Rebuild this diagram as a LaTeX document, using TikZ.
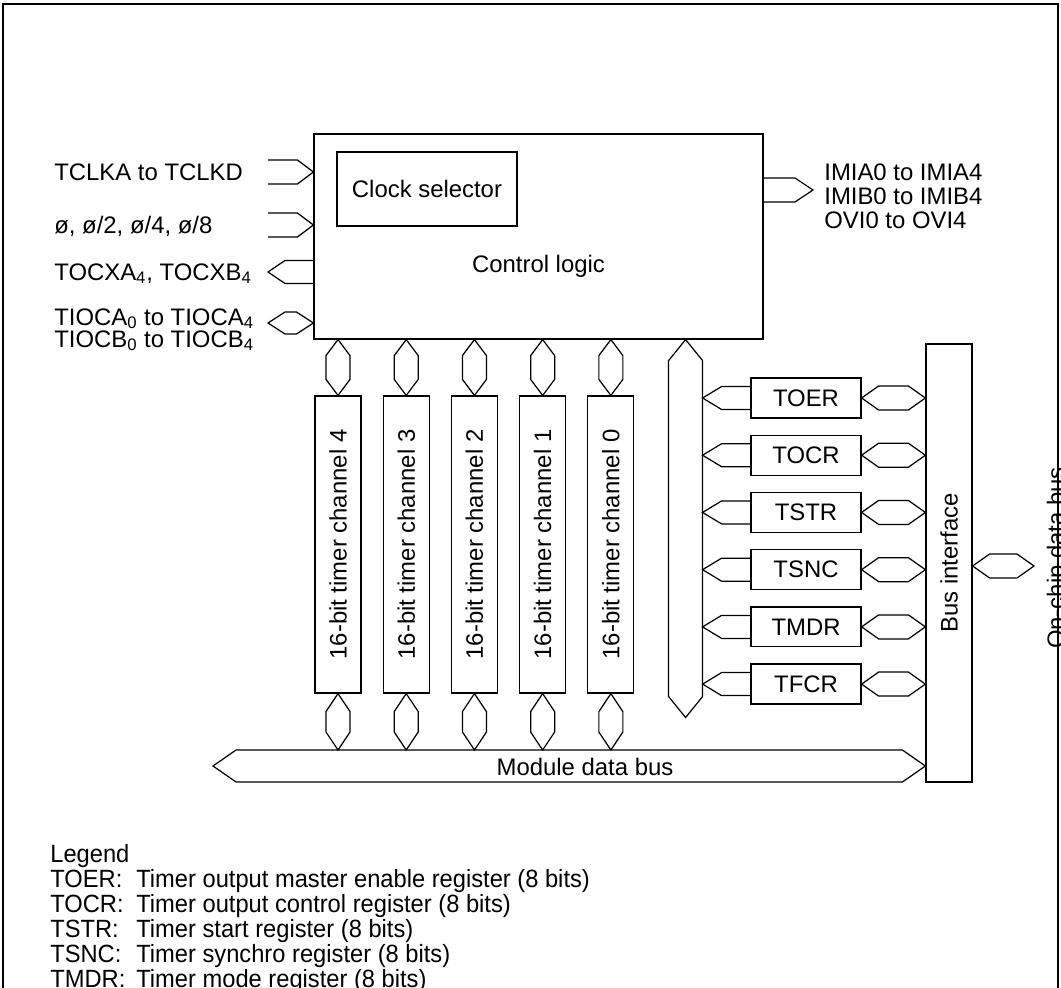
\documentclass[tikz,border=0pt]{standalone}
\usepackage{fontspec}
\setmainfont{Liberation Sans}
\usepackage{graphicx}
\usetikzlibrary{positioning}
\newcommand{\dgmfont}{\fontsize{13.6pt}{16pt}\selectfont}
\newcommand{\legfont}{\fontsize{14.2pt}{17pt}\selectfont}

\begin{document}
\begin{tikzpicture}[
    x=0.02cm, y=-0.02cm,
    node distance=0.42cm,
    every node/.style={font=\dgmfont},
    blk/.style={rectangle,draw,line width=0.7pt,inner sep=0pt},
    chan/.style={blk,minimum width=0.92cm,minimum height=5.94cm},
    reg/.style={blk,minimum width=2.2cm,minimum height=0.8cm},
    lbl/.style={anchor=base west,inner sep=0pt},
    legtxt/.style={lbl,font=\legfont,xscale=0.95},
    bus/.style={draw,line width=0.7pt,line join=miter},
    vhex/.style 2 args={bus,to path={-- ([shift={(#1,#2)}]\tikztostart) -- ([shift={(#1,-#2)}]\tikztotarget) -- (\tikztotarget) -- ([shift={(-#1,-#2)}]\tikztotarget) -- ([shift={(-#1,#2)}]\tikztostart) -- cycle}},
    hhex/.style 2 args={bus,to path={-- ([shift={(#2,-#1)}]\tikztostart) -- ([shift={(-#2,-#1)}]\tikztotarget) -- (\tikztotarget) -- ([shift={(-#2,#1)}]\tikztotarget) -- ([shift={(#2,#1)}]\tikztostart) -- cycle}},
    pentR/.style 2 args={bus,to path={([shift={(0,-#1)}]\tikztostart) -- ([shift={(-#2,-#1)}]\tikztotarget) -- (\tikztotarget) -- ([shift={(-#2,#1)}]\tikztotarget) -- ([shift={(0,#1)}]\tikztostart)}},
    pentL/.style 2 args={bus,to path={([shift={(0,-#1)}]\tikztostart) -- ([shift={(#2,-#1)}]\tikztotarget) -- (\tikztotarget) -- ([shift={(#2,#1)}]\tikztotarget) -- ([shift={(0,#1)}]\tikztostart)}}
  ]
    \useasboundingbox (0,0) rectangle (1061,987);
    \clip (0,0) rectangle (1061,987);
    \draw[line width=0.9pt] (3,4) rectangle (1058,1100);

    % control block
    \node[blk,minimum width=8.98cm,minimum height=4.1cm,
      label={[yshift=-0.59cm]center:Control logic}] (ctl) at (538.5,236.5) {};
    \node[blk,minimum width=3.6cm,minimum height=1.48cm] (clk) at (427,189) {Clock selector};

    % timer channels
    \node[chan] (ch4) at (338,544.5) {\rotatebox{90}{16-bit timer channel 4}};
    \node[chan,right=of ch4] (ch3) {\rotatebox{90}{16-bit timer channel 3}};
    \node[chan,right=of ch3] (ch2) {\rotatebox{90}{16-bit timer channel 2}};
    \node[chan,right=of ch2] (ch1) {\rotatebox{90}{16-bit timer channel 1}};
    \node[chan,right=of ch1] (ch0) {\rotatebox{90}{16-bit timer channel 0}};

    % registers and bus interface
    \node[reg] (TOER) at (806,398) {TOER};
    \node[reg,below=0.32cm of TOER] (TOCR) {TOCR};
    \node[reg,below=0.32cm of TOCR] (TSTR) {TSTR};
    \node[reg,below=0.32cm of TSTR] (TSNC) {TSNC};
    \node[reg,below=0.32cm of TSNC] (TMDR) {TMDR};
    \node[reg,below=0.32cm of TMDR] (TFCR) {TFCR};
    \node[blk,minimum width=0.92cm,minimum height=8.76cm] (busif) at (949,563) {\rotatebox{90}{Bus interface}};

    % pin labels
    \node[lbl] (tclklbl) at (54,180) {TCLKA to TCLKD};
    \node[lbl] (philbl) at (54,233) {ø, ø/2, ø/4, ø/8};
    \node[lbl] (tocxlbl) at (54,280) {TOCXA\textsubscript{4}, TOCXB\textsubscript{4}};
    \node[lbl] (tiocalbl) at (54,325) {TIOCA\textsubscript{0} to TIOCA\textsubscript{4}};
    \node[lbl] (tiocblbl) at (54,347) {TIOCB\textsubscript{0} to TIOCB\textsubscript{4}};
    \node[lbl] (imialbl) at (824,180) {IMIA0 to IMIA4};
    \node[lbl] (imiblbl) at (824,204) {IMIB0 to IMIB4};
    \node[lbl] (ovilbl) at (824,228) {OVI0 to OVI4};
    \node (mbtxt) at (585,767) {Module data bus};
    \node[rotate=90,anchor=base,inner sep=0pt] (ocblbl) at (1064,558) {On-chip data bus};

    % pin connectors
    \coordinate (tclk) at (268,172);
    \coordinate (tclk-e) at (tclk -| ctl.west);
    \coordinate (phi) at (268,225);
    \coordinate (phi-e) at (phi -| ctl.west);
    \coordinate (tocx) at (268,272);
    \coordinate (tocx-e) at (tocx -| ctl.west);
    \coordinate (tioc) at (268,323);
    \coordinate (tioc-e) at (tioc -| ctl.west);
    \coordinate (imi) at (813,190);
    \coordinate (imi-w) at (imi -| ctl.east);
    \draw[pentR={12}{16}] (tclk) to (tclk-e);
    \draw[pentR={12}{16}] (phi) to (phi-e);
    \draw[pentL={11.5}{17}] (tocx-e) to (tocx);
    \draw[hhex={11}{17}] (tioc) to (tioc-e);
    \draw[pentR={12}{18}] (imi-w) to (imi);

    % module data bus and channel links
    \coordinate (mbl) at (213,766);
    \coordinate (mbr) at (mbl -| busif.west);
    \coordinate (mbtop) at ([yshift=0.32cm]mbl);
    \draw[hhex={16}{23}] (mbl) to (mbr);
    \foreach \c in {4,3,2,1,0} {
      \coordinate (ct\c) at (ch\c.north |- ctl.south);
      \coordinate (cb\c) at (ch\c.south |- mbtop);
      \draw[vhex={12}{16}] (ct\c) to (ch\c.north);
      \draw[vhex={12}{18}] (ch\c.south) to (cb\c);
    }

    % internal bus to registers
    \coordinate (ibtop) at ([xshift=-1.56cm]ctl.south east);
    \coordinate (ibbot) at ([yshift=-7.56cm]ibtop);
    \coordinate (ibedge) at ([xshift=0.34cm]ibtop);
    \draw[vhex={17}{21}] (ibtop) to (ibbot);
    \foreach \r in {TOER,TOCR,TSTR,TSNC,TMDR,TFCR} {
      \coordinate (\r-t) at (\r.west -| ibedge);
      \coordinate (\r-b) at (\r.east -| busif.west);
      \draw[pentL={11.5}{19}] (\r.west) to (\r-t);
      \draw[hhex={12}{17}] (\r.east) to (\r-b);
    }

    % on-chip data bus
    \coordinate (ocb) at (1034,566);
    \coordinate (ocb-w) at (ocb -| busif.east);
    \draw[hhex={12}{17}] (ocb-w) to (ocb);

    % legend
    \node[legtxt] (legend) at (50,862) {Legend};
    \foreach \ab/\txt [count=\i] in {TOER/Timer output master enable register (8 bits),
        TOCR/Timer output control register (8 bits), TSTR/Timer start register (8 bits),
        TSNC/Timer synchro register (8 bits), TMDR/Timer mode register (8 bits)} {
      \node[legtxt] (ab\i) at (50,862+25*\i) {\ab:};
      \node[legtxt] (tx\i) at (136,862+25*\i) {\txt};
    }
  \end{tikzpicture}
\end{document}
